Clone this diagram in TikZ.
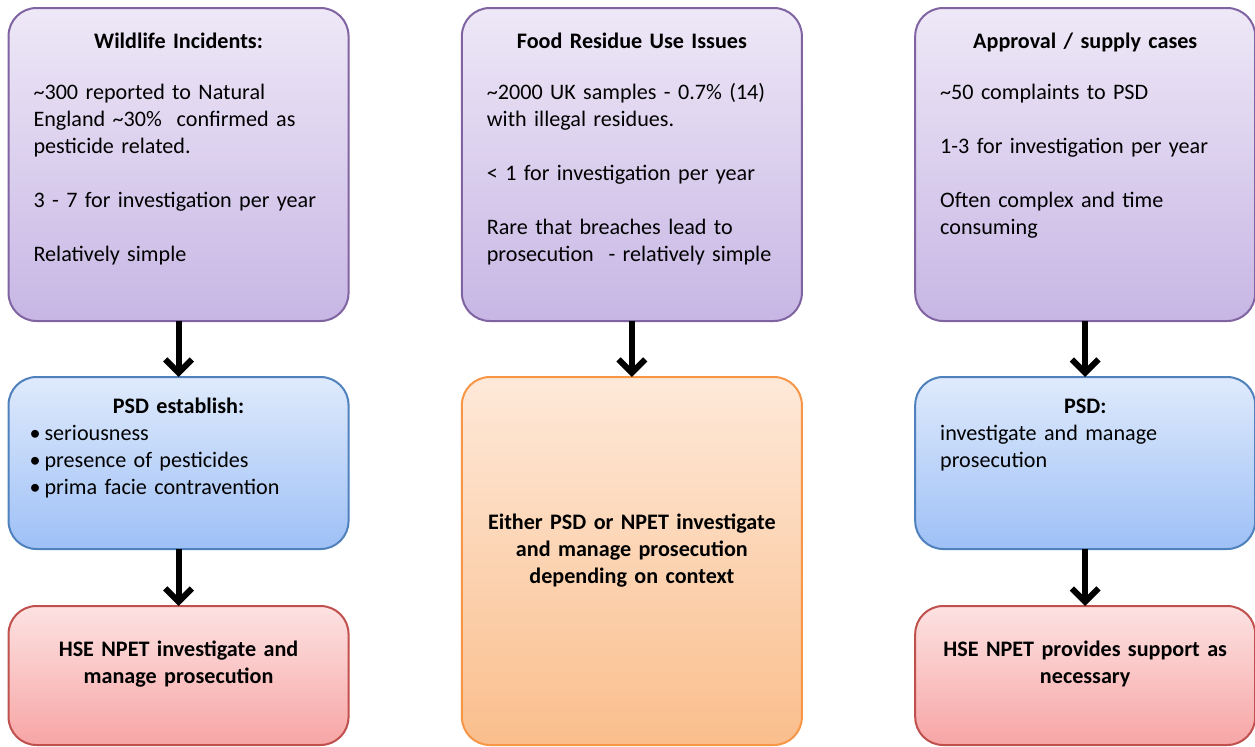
\documentclass[tikz,border=0pt]{standalone}
\usepackage{fontspec}
\setmainfont{Carlito}
\usetikzlibrary{arrows.meta,positioning}

\definecolor{caseTop}{RGB}{238,232,247}
\definecolor{caseBottom}{RGB}{199,182,228}
\definecolor{caseLine}{RGB}{128,100,162}
\definecolor{psdTop}{RGB}{223,234,252}
\definecolor{psdBottom}{RGB}{158,192,246}
\definecolor{psdLine}{RGB}{79,129,189}
\definecolor{hseTop}{RGB}{253,226,226}
\definecolor{hseBottom}{RGB}{247,165,165}
\definecolor{hseLine}{RGB}{192,80,77}
\definecolor{eitherTop}{RGB}{254,233,217}
\definecolor{eitherBottom}{RGB}{250,190,140}
\definecolor{eitherLine}{RGB}{247,150,70}

\newcommand{\boxtitle}[1]{\makebox[\linewidth]{\strut\textbf{#1}}}
\newcommand{\dotitem}{\hspace*{-3pt}\textbullet\hspace{3pt}}

\begin{document}
\begin{tikzpicture}
[node distance = 85pt, auto,
% STYLES
every node/.style={font=\fontsize{16.6}{20.25}\selectfont},
% The box style is used to draw the rounded boxes of the three columns
box/.style={rectangle, rounded corners=21pt, line width=1.5pt, minimum width=255pt, inner sep=0pt, outer sep=0pt},
case/.style={box, draw=caseLine, top color=caseTop, bottom color=caseBottom, minimum height=234.75pt},
psd/.style={box, draw=psdLine, top color=psdTop, bottom color=psdBottom, minimum height=129pt},
hse/.style={box, draw=hseLine, top color=hseTop, bottom color=hseBottom, minimum height=104.25pt},
either/.style={box, draw=eitherLine, top color=eitherTop, bottom color=eitherBottom, minimum height=276pt},
% The comment style is used to write the text of each box
comment/.style={anchor=north, inner sep=0pt, text width=217.5pt, align=left},
% The action style is used for the bold centred texts
action/.style={comment, align=center, font=\fontsize{16.6}{20.25}\selectfont\bfseries},
% The flow style is used to draw the arrows
flow/.style={-{Straight Barb[length=10pt,width=20pt]}, line width=4.5pt}]

\useasboundingbox (0,0) rectangle (941.25pt,-559.5pt);

% Draw boxes
\node [case, anchor=north west] (wildlife) at (6.4pt,-6pt) {};
\node [case, right=of wildlife] (residue) {};
\node [case, right=of residue] (approval) {};
\node [psd, below=42pt of wildlife] (establish) {};
\node [hse, below=42.75pt of establish] (hseInvestigate) {};
\node [either, below=42pt of residue] (either) {};
\node [psd, below=42pt of approval] (manage) {};
\node [hse, below=42.75pt of manage] (hseSupport) {};

% WILDLIFE
\node [comment] (comment-wildlife) at ([yshift=-15.8pt]wildlife.north)
  {\boxtitle{Wildlife Incidents:}\\[0.9\baselineskip]
   \textasciitilde300 reported to Natural\\
   England \textasciitilde30\%\ \ confirmed as\\
   pesticide related.\\[\baselineskip]
   3 - 7 for investigation per year\\[\baselineskip]
   Relatively simple};
% FOOD RESIDUE
\node [comment] (comment-residue) at ([yshift=-15.8pt]residue.north)
  {\boxtitle{Food Residue Use Issues}\\[0.9\baselineskip]
   \textasciitilde2000 UK samples - 0.7\% (14)\\
   with illegal residues.\\[\baselineskip]
   < 1 for investigation per year\\[\baselineskip]
   Rare that breaches lead to\\
   prosecution \ - relatively simple};
% APPROVAL
\node [comment] (comment-approval) at ([yshift=-15.8pt]approval.north)
  {\boxtitle{Approval / supply cases}\\[0.9\baselineskip]
   \textasciitilde50 complaints to PSD\\[\baselineskip]
   1-3 for investigation per year\\[\baselineskip]
   Often complex and time\\
   consuming};
% PSD ESTABLISH
\node [comment] (comment-establish) at ([yshift=-12.8pt]establish.north)
  {\boxtitle{PSD establish:}\\
   \dotitem seriousness\\
   \dotitem presence of pesticides\\
   \dotitem prima facie contravention};
% PSD MANAGE
\node [comment] (comment-manage) at ([yshift=-12.8pt]manage.north)
  {\boxtitle{PSD:}\\
   investigate and manage\\
   prosecution};
% EITHER
\node [action] (comment-either) at ([yshift=-99.8pt]either.north)
  {\strut Either PSD or NPET investigate\\
   and manage prosecution\\
   depending on context};
% HSE NPET
\node [action] (comment-hseInvestigate) at ([yshift=-23.3pt]hseInvestigate.north)
  {\strut HSE NPET investigate and\\
   manage prosecution};
\node [action] (comment-hseSupport) at ([yshift=-23.3pt]hseSupport.north)
  {\strut HSE NPET provides support as\\
   necessary};

% Draw the links between boxes
\path[flow]
    (wildlife) edge (establish)
    (establish) edge (hseInvestigate)
    (residue) edge (either)
    (approval) edge (manage)
    (manage) edge (hseSupport);

\end{tikzpicture}
\end{document}
